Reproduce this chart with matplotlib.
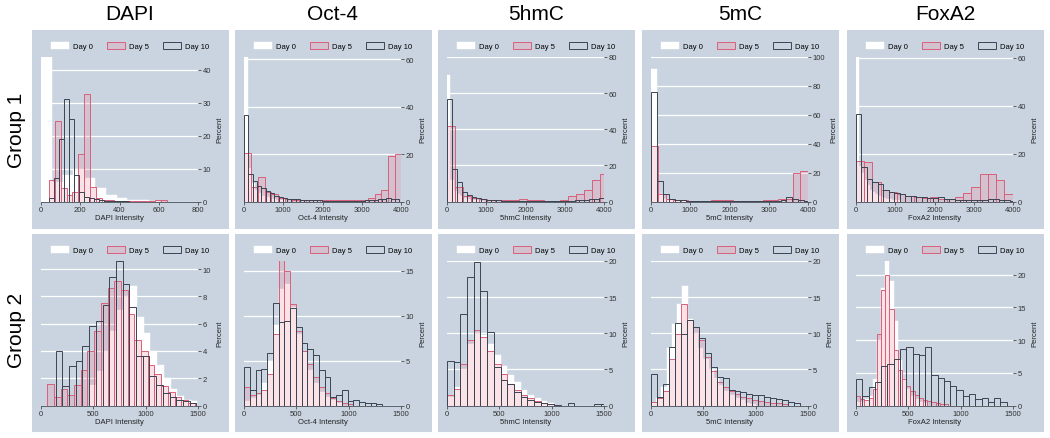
import numpy as np
import matplotlib.pyplot as plt
from matplotlib.patches import Patch, Rectangle

plt.rcParams['font.family'] = ['Liberation Sans', 'DejaVu Sans']

markers = ["DAPI", "Oct-4", "5hmC", "5mC", "FoxA2"]
groups = ["Group 1", "Group 2"]
days = ["Day 0", "Day 5", "Day 10"]

# axis ranges / ticks
g1_xmax = [800, 4000, 4000, 4000, 4000]
g1_xticks = [[0, 200, 400, 600, 800]] + [[0, 1000, 2000, 3000, 4000]] * 4
g1_ytop = [43.8, 61, 80, 100, 60.4]
g1_yticks = [[0, 10, 20, 30, 40], [0, 20, 40, 60], [0, 20, 40, 60, 80],
             [0, 20, 40, 60, 80, 100], [0, 20, 40, 60]]
g2_xmax = [1500] * 5
g2_xticks = [[0, 500, 1000, 1500]] * 5
g2_ytop = [10.6, 16.1, 20, 20, 22.1]
g2_yticks = [[0, 2, 4, 6, 8, 10], [0, 5, 10, 15], [0, 5, 10, 15, 20],
             [0, 5, 10, 15, 20], [0, 5, 10, 15, 20]]

# histogram bins: (first edge, bin width) for Day 0 / Day 5 / Day 10
dapi1_bins = [(0, 55), (40, 30), (41, 25.5)]
dapi1_d0 = [43.8, 6, 8, 10, 7, 4, 2, 1, 0.6, 0.4, 0.2]
dapi1_d5 = [6.5, 24.4, 4, 2, 3, 14.3, 32.5, 4.5, 1, 0.5, 0.4, 0.3, 0.3, 0.2, 0.3, 0.2, 0.3, 0.2, 0.6, 0.6]
dapi1_d10 = [1, 7, 19, 31, 25, 8, 3, 1.5, 1, 0.8, 0.5, 0.3, 0.3, 0.2, 0.2, 0.2]

oct1_bins = [(0, 90), (0, 175), (0, 110)]
oct1_d0 = [61, 14, 8, 5, 3.5, 2.5, 2, 1.5, 1, 0.8, 0.6, 0.5]
oct1_d5 = [20.6, 6, 10.3, 4, 3, 1.5, 1, 0.8, 0.7, 0.6, 0.6, 0.5, 0.6, 0.7, 0.8, 0.6, 0.5, 0.8, 1.5, 3, 5, 19, 20]
oct1_d10 = [36.6, 11.4, 8.5, 6.5, 5.5, 4.5, 3.5, 2.5, 2, 1.5, 1.2, 1, 0.9, 0.8, 0.7, 0.6, 0.5, 0.5,
            0.4, 0.4, 0.3, 0.3, 0.3, 0.3, 0.3, 0.3, 0.3, 0.4, 0.5, 0.6, 0.8, 1, 1.2, 1.5, 1.2, 1]

hmc1_bins = [(0, 85), (0, 205), (0, 125)]
hmc1_d0 = [69.8, 12, 6, 4, 3, 2, 1.5, 1, 0.8, 0.6, 0.5]
hmc1_d5 = [42, 8, 3, 2, 1.5, 1, 0.8, 0.7, 0.6, 1.5, 0.8, 0.6, 0.5, 0.5, 0.6, 3.2, 4, 6.6, 12, 15.5]
hmc1_d10 = [56.5, 18, 11, 5.5, 3.5, 2.5, 1.8, 1.3, 1, 0.8, 0.6, 0.5, 0.4, 0.4, 0.3, 0.3, 0.3, 0.3,
            0.3, 0.3, 0.3, 0.3, 0.3, 0.3, 0.4, 0.5, 0.6, 0.8, 1, 1.2, 1.5, 2]

mc1_bins = [(0, 160), (0, 190), (0, 150)]
mc1_d0 = [91.8, 5, 2, 1, 0.6, 0.4]
mc1_d5 = [38.7, 5, 2, 1, 0.8, 0.6, 0.5, 0.5, 0.7, 1, 0.8, 0.6, 0.5, 0.5, 0.6, 0.7, 1, 1.5, 2, 20, 21.4]
mc1_d10 = [75.7, 14.5, 5.3, 1.5, 1, 0.7, 0.5, 0.4, 0.3, 0.3, 0.3, 0.3, 0.3, 0.3, 0.3, 0.3, 0.3,
           0.3, 0.3, 0.4, 0.5, 0.6, 1, 3, 1.5, 0.8, 0.5]

fox1_bins = [(0, 70), (0, 210), (0, 140)]
fox1_d0 = [60.4, 15, 12, 9, 7, 5, 4, 3, 2.5, 2, 1.5, 1.2, 1, 0.8, 0.6, 0.5]
fox1_d5 = [17, 16.5, 8, 5, 4, 3, 2.5, 2, 1.5, 1.8, 1, 1, 2, 3.5, 6, 11.5, 11.4, 9, 3]
fox1_d10 = [36.6, 14.4, 9.4, 8, 7.3, 5, 4, 3.5, 3, 2.5, 2.2, 2, 1.8, 1.5, 1.5, 2, 1.2, 1, 0.8,
            0.6, 0.5, 0.5, 0.6, 0.8, 1, 1, 0.8, 0.5, 0.3]

dapi2_bins = [(470, 64), (60, 64), (140, 64)]
dapi2_d0 = [1.5, 2.5, 4, 5.5, 7, 8, 8.8, 6.5, 5.3, 4.0, 3.0, 2.0, 1.2, 0.7, 0.4, 0.3]
dapi2_d5 = [1.6, 0.6, 1.2, 0.8, 1.5, 2.6, 4, 5.5, 7.5, 8.6, 9.1, 8.5, 6.7, 4.8, 4.0, 3.0, 2.3,
            1.4, 1.0, 0.6, 0.4, 0.2]
dapi2_d10 = [4.0, 1.4, 2.9, 3.3, 4.4, 5.8, 6.2, 7.4, 9.4, 10.6, 8.9, 7.2, 3.6, 3.6, 2.2, 1.5,
             0.9, 0.6, 0.4, 0.3, 0.2]

oct2_bins = [(0, 55), (0, 55), (0, 55)]
oct2_d0 = [0.5, 0.8, 1.2, 2.5, 5, 9, 13, 13.5, 11, 8, 6, 4, 2.5, 1.5, 1, 0.6, 0.3]
oct2_d5 = [2.1, 1.2, 1.4, 1.7, 3.5, 8, 16.2, 15, 11.3, 8.3, 6.1, 4.6, 3.2, 2.1, 1.4, 0.8, 0.5, 0.3, 0.2]
oct2_d10 = [4.3, 1.7, 3.9, 4.1, 5.9, 11.4, 9.3, 9.4, 10.9, 8.7, 7.0, 6.3, 5.6, 3.9, 3.2, 1.0,
            1.2, 1.7, 0.5, 0.6, 0.4, 0.3, 0.3, 0.2]

hmc2_bins = [(0, 64), (0, 64), (0, 64)]
hmc2_d0 = [1.2, 2.5, 5, 8.5, 10, 9.8, 8.5, 7, 5.5, 4.2, 3.2, 2.2, 1.5, 1.0, 0.6, 0.3]
hmc2_d5 = [1.5, 2.3, 5.8, 9.0, 10.4, 9.5, 7.6, 5.8, 4.4, 3.0, 2.1, 1.5, 1.0, 0.6, 0.3, 0.2]
hmc2_d10 = [6.2, 6.0, 12.7, 17.8, 19.9, 15.9, 10.2, 5.3, 3.5, 3.0, 1.9, 1.2, 0.8, 0.5, 0.3, 0.2,
            0.1, 0, 0.3, 0, 0, 0, 0.2, 0.2]

mc2_bins = [(0, 50), (0, 57), (0, 57)]
mc2_d0 = [0.3, 1, 2.5, 8, 11.3, 14.1, 16.6, 12, 10, 8, 6.5, 5, 3.8, 2.8, 2, 1.4, 1, 0.7, 0.4, 0.2]
mc2_d5 = [0.5, 1.0, 2.0, 6.5, 9.9, 14.1, 11.8, 10.8, 9.0, 6.7, 4.8, 3.2, 2.5, 2.0, 1.6, 1.2, 1.0,
          0.8, 0.6, 0.5, 0.4, 0.3, 0.2]
mc2_d10 = [4.4, 1.2, 3.0, 8.1, 11.4, 9.9, 11.8, 10.9, 9.3, 7.2, 5.3, 3.9, 3.8, 2.1, 2.0, 1.8, 1.6,
           1.5, 1.4, 1.2, 1.1, 0.9, 0.7, 0.5, 0.3]

fox2_bins = [(0, 40), (0, 40), (0, 60)]
fox2_d0 = [0.5, 0.5, 1, 1.5, 4, 10, 18, 22.1, 19, 13, 7, 4, 2.5, 1.5, 1, 0.6, 0.4]
fox2_d5 = [1.5, 1.0, 0.8, 1.2, 2.5, 10.9, 17.7, 20, 14.7, 8.5, 5.5, 4, 3, 2.2, 1.6, 1.2, 0.9, 0.7,
           0.5, 0.4, 0.3, 0.2]
fox2_d10 = [4.1, 1.5, 2.8, 3.6, 6.1, 6.4, 7.1, 8.6, 8.9, 7.9, 7.7, 8.9, 4.6, 4.2, 3.8, 3.0, 2.3,
            1.5, 1.7, 1.0, 1.2, 0.6, 1.2, 0.5]

panels = [
    [(dapi1_bins, [dapi1_d0, dapi1_d5, dapi1_d10]), (oct1_bins, [oct1_d0, oct1_d5, oct1_d10]),
     (hmc1_bins, [hmc1_d0, hmc1_d5, hmc1_d10]), (mc1_bins, [mc1_d0, mc1_d5, mc1_d10]),
     (fox1_bins, [fox1_d0, fox1_d5, fox1_d10])],
    [(dapi2_bins, [dapi2_d0, dapi2_d5, dapi2_d10]), (oct2_bins, [oct2_d0, oct2_d5, oct2_d10]),
     (hmc2_bins, [hmc2_d0, hmc2_d5, hmc2_d10]), (mc2_bins, [mc2_d0, mc2_d5, mc2_d10]),
     (fox2_bins, [fox2_d0, fox2_d5, fox2_d10])],
]
xmaxes = [g1_xmax, g2_xmax]
xtickss = [g1_xticks, g2_xticks]
ytops = [g1_ytop, g2_ytop]
ytickss = [g1_yticks, g2_yticks]

BG = "#c9d4e0"
PINK = "#d9607a"
PINK_FILL = (0.95, 0.55, 0.62, 0.25)
DARK = "#3b4452"
styles = [
    dict(facecolor="white", edgecolor="white", linewidth=0.3),
    dict(facecolor=PINK_FILL, edgecolor=PINK, linewidth=0.7),
    dict(facecolor="none", edgecolor=DARK, linewidth=0.7),
]

W, H = 1050, 439
fig = plt.figure(figsize=(W / 100, H / 100), dpi=100)
fig.patch.set_facecolor("white")

panel_left = [32, 235, 438, 642, 847]
panel_w = 197
row_top = [31, 235]
row_h = [199, 198]
plot_top = [58, 262]
plot_bot = [202.5, 406.5]

for r in range(2):
    fig.text(17 / W, 1 - (130 + 200 * r) / H, groups[r], rotation=90,
             ha="center", va="center", fontsize=15)
    for c in range(5):
        pl = panel_left[c]
        fig.patches.append(Rectangle((pl / W, 1 - (row_top[r] + row_h[r]) / H),
                                     panel_w / W, row_h[r] / H, transform=fig.transFigure,
                                     facecolor=BG, edgecolor="none", zorder=-5))
        ax = fig.add_axes([(pl + 9) / W, 1 - plot_bot[r] / H, 157 / W,
                           (plot_bot[r] - plot_top[r]) / H])
        ax.set_facecolor(BG)
        bins, series = panels[r][c]
        for (start, width), h, st in zip(bins, series, styles):
            edges = start + width * np.arange(len(h))
            ax.bar(edges, h, width=width, align="edge", **st)
        ax.set_xlim(0, xmaxes[r][c])
        ax.set_ylim(0, ytops[r][c])
        ax.set_xticks(xtickss[r][c])
        ax.set_yticks(ytickss[r][c])
        ax.yaxis.tick_right()
        ax.yaxis.set_label_position("right")
        ax.set_axisbelow(True)
        ax.yaxis.grid(True, color="white", linewidth=0.9)
        for s in ["top", "left", "right"]:
            ax.spines[s].set_visible(False)
        ax.spines["bottom"].set_color("#4a4f58")
        ax.spines["bottom"].set_linewidth(0.6)
        ax.tick_params(labelsize=5.5, length=2, width=0.5, pad=1.2, colors="#333333")
        ax.set_xlabel(markers[c] + " Intensity", fontsize=5.5, labelpad=1.0, color="#222222")
        ax.set_ylabel("Percent", fontsize=5.5, labelpad=4, color="#222222")
        handles = [Patch(**st) for st in styles]
        ax.legend(handles, days, loc="center", ncol=3, frameon=False, fontsize=5.5,
                  bbox_to_anchor=((pl + 98) / W, 1 - (row_top[r] + 16) / H),
                  bbox_transform=fig.transFigure, handlelength=2.4, handleheight=1.1,
                  columnspacing=1.8, handletextpad=0.5, borderpad=0)
        if r == 0:
            fig.text((pl + 98) / W, 1 - 15 / H, markers[c], ha="center", va="center",
                     fontsize=15)

fig.savefig("out.png", dpi=100, facecolor="white")
